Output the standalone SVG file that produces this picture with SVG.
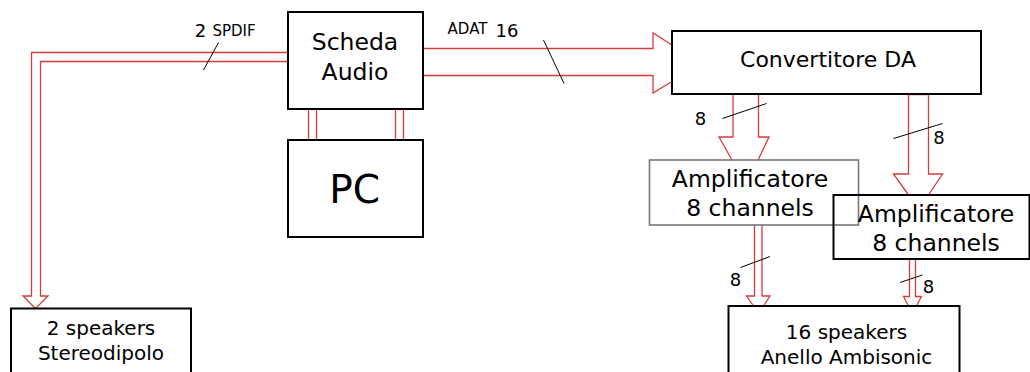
<svg xmlns="http://www.w3.org/2000/svg" width="1030" height="372" viewBox="0 0 1030 372">
<style>
.box{fill:#fff;stroke:#000;stroke-width:2}
.gbox{fill:none;stroke:#777;stroke-width:1.6}
.wire{fill:none;stroke:#d43c3c;stroke-width:1.3}
.slash{stroke:#000;stroke-width:1}
text{font-family:"DejaVu Sans","Liberation Sans",sans-serif;fill:#000;text-anchor:middle}
.t23{font-size:23.5px}
.t20{font-size:20px}
.t18{font-size:18px}
.t15{font-size:15px}
</style>
<rect width="1030" height="372" fill="#fff"/>
<g id="connectors">
  <path class="wire" d="M288,52.5 H31.5 V296 H23 L35.5,308.5 L48,296 H40.5 V61.5 H288"/>
  <path class="wire" d="M424,48.5 H653 V33 L672,45 M672,81.5 L653,93 V75.5 H424"/>
  <path class="wire" d="M308.5,109 V140 M316.5,109 V140 M395.5,109 V140 M403.5,109 V140"/>
  <path class="wire" d="M733,94 V137 H719 L732,160 M758,160 L769,137 H758.5 V94"/>
  <path class="wire" d="M908.5,94.5 V174 H893.5 L908.5,195 M928.5,195 L942.5,174 H928.5 V94.5 H908.5"/>
  <path class="wire" d="M754.5,225 V296 H746.5 L753.5,306 M763.5,306 L770,296 H762 V225"/>
  <path class="wire" d="M909.5,259 V296.5 H903.5 L908.5,306 M916.5,306 L921.5,296.5 H915.5 V259"/>
  <line class="slash" x1="218.5" y1="42.5" x2="203.5" y2="70"/>
  <line class="slash" x1="543.5" y1="40" x2="564" y2="83.5"/>
  <line class="slash" x1="722.5" y1="118.5" x2="766.5" y2="103.5"/>
  <line class="slash" x1="893.5" y1="138.5" x2="942.5" y2="123.5"/>
  <line class="slash" x1="740.5" y1="267.5" x2="770" y2="256.5"/>
  <line class="slash" x1="900" y1="282.5" x2="922.5" y2="275"/>
  <text class="t18" x="200.5" y="37">2</text>
  <text class="t15" x="234" y="36">SPDIF</text>
  <text class="t15" x="467.5" y="34">ADAT</text>
  <text class="t18" x="507" y="36.5">16</text>
  <text class="t18" x="700.5" y="125">8</text>
  <text class="t18" x="939" y="144">8</text>
  <text class="t18" x="735.5" y="286">8</text>
  <text class="t18" x="928.5" y="292.5">8</text>
</g>
<g id="scheda">
  <rect class="box" x="288" y="12" width="135" height="97"/>
  <text class="t23" x="355" y="50">Scheda</text>
  <text class="t23" x="355" y="79.5">Audio</text>
</g>
<g id="pc">
  <rect class="box" x="288" y="140" width="135" height="97"/>
  <text x="354.5" y="202.5" style="font-size:39px">PC</text>
</g>
<g id="convertitore">
  <rect class="box" x="672" y="31" width="309" height="63"/>
  <text x="828" y="67" style="font-size:22px">Convertitore DA</text>
</g>
<g id="amp1">
  <rect class="gbox" x="649.5" y="160" width="209" height="65"/>
  <text class="t23" x="750" y="187">Amplificatore</text>
  <text class="t23" x="750" y="215.5">8 channels</text>
</g>
<g id="amp2">
  <rect class="box" x="833.5" y="195" width="196" height="64" style="fill:none"/>
  <text class="t23" x="936" y="222">Amplificatore</text>
  <text class="t23" x="936" y="250.5">8 channels</text>
</g>
<g id="stereo">
  <rect class="box" x="11" y="308.5" width="180" height="80"/>
  <text class="t20" x="101" y="335">2 speakers</text>
  <text class="t20" x="101" y="359.5">Stereodipolo</text>
</g>
<g id="ambisonic">
  <rect class="box" x="728.5" y="306" width="231" height="80"/>
  <text class="t20" x="846.5" y="338.5">16 speakers</text>
  <text class="t20" x="846.5" y="363.5">Anello Ambisonic</text>
</g>
</svg>
